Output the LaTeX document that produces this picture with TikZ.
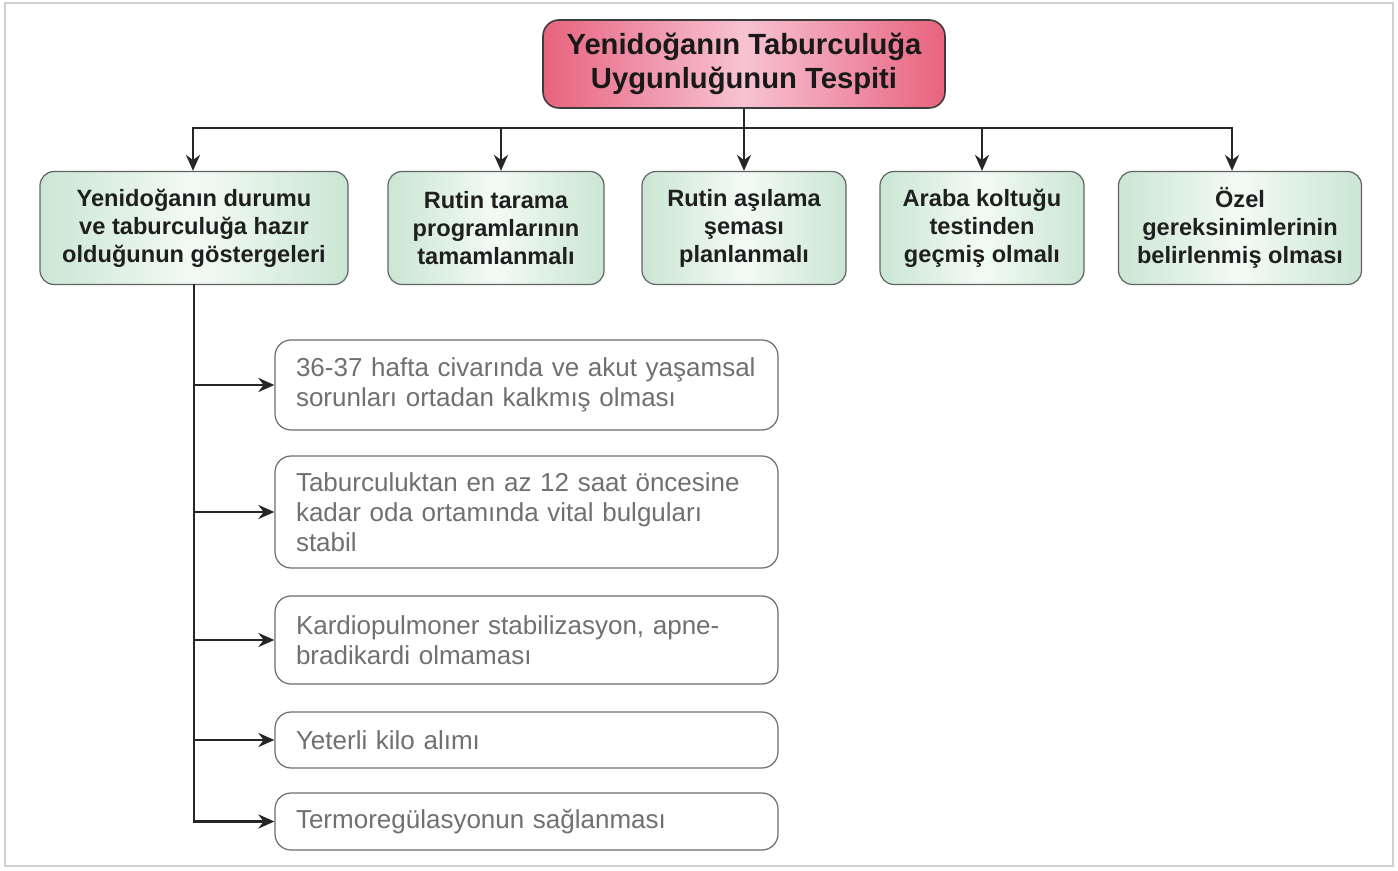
\documentclass[tikz,border=0pt]{standalone}
\usepackage{fontspec}
\setmainfont{Liberation Sans}
\usetikzlibrary{arrows.meta}
\definecolor{pinkedge}{HTML}{E8637E}
\definecolor{pinkmid}{HTML}{F7C3D3}
\definecolor{greenedge}{HTML}{CBE6D3}
\definecolor{greenmid}{HTML}{F3FAF5}
\definecolor{boxline}{HTML}{3C3C3C}
\definecolor{greytext}{HTML}{707070}
\definecolor{frameline}{HTML}{CFCFCF}
\tikzset{
  topbox/.style={draw=boxline, line width=0.8pt, rounded corners=8pt,
    left color=pinkedge, right color=pinkedge, middle color=pinkmid,
    align=center, font=\fontsize{14.6}{17}\selectfont\bfseries, text=black!90,
    minimum width=201pt, minimum height=44pt, inner sep=2pt},
  greenbox/.style={draw=boxline!80, line width=0.6pt, rounded corners=7pt,
    left color=greenedge, right color=greenedge, middle color=greenmid,
    align=center, font=\fontsize{11.8}{14}\selectfont\bfseries, text=black!88,
    minimum height=56.5pt, inner sep=2pt},
  whitebox/.style={draw=boxline!75, line width=0.6pt, rounded corners=8pt, fill=white,
    align=left, font=\fontsize{13}{15}\selectfont, text=greytext,
    minimum width=251.5pt, text width=230.5pt, inner xsep=10.5pt, inner ysep=2pt},
  conn/.style={draw=black!85, line width=1.4pt},
  arr/.style={conn, -{Stealth[length=8pt,width=7pt]}},
}
\begin{document}
\begin{tikzpicture}[x=0.5pt,y=-0.5pt]
\useasboundingbox (0,0) rectangle (1398,871);
\draw[frameline, line width=1pt] (5,3) rectangle (1393,866);

\node[topbox] (top) at (744,64) {Yenidoğanın Taburculuğa\\Uygunluğunun Tespiti};

\node[greenbox, minimum width=154pt] (g1) at (194,228) {Yenidoğanın durumu\\ve taburculuğa hazır\\olduğunun göstergeleri};
\node[greenbox, minimum width=108pt] (g2) at (496,228) {Rutin tarama\\programlarının\\tamamlanmalı};
\node[greenbox, minimum width=102pt] (g3) at (744,228) {Rutin aşılama\\şeması\\planlanmalı};
\node[greenbox, minimum width=102pt] (g4) at (982,228) {Araba koltuğu\\testinden\\geçmiş olmalı};
\node[greenbox, minimum width=121.5pt] (g5) at (1240,228) {Özel\\gereksinimlerinin\\belirlenmiş olması};

\node[whitebox, minimum height=45pt] (w1) at (526.5,385) {36-37 hafta civarında ve akut yaşamsal\\sorunları ortadan kalkmış olması};
\node[whitebox, minimum height=56pt] (w2) at (526.5,512) {Taburculuktan en az 12 saat öncesine\\kadar oda ortamında vital bulguları\\stabil};
\node[whitebox, minimum height=44pt] (w3) at (526.5,640) {Kardiopulmoner stabilizasyon, apne-\\bradikardi olmaması};
\node[whitebox, minimum height=28pt] (w4) at (526.5,740) {Yeterli kilo alımı};
\node[whitebox, minimum height=28.5pt] (w5) at (526.5,821.5) {Termoregülasyonun sağlanması};

\coordinate (bus) at (744,128);
\coordinate (b1) at (193,128);
\coordinate (b2) at (501,128);
\coordinate (b4) at (982,128);
\coordinate (b5) at (1232,128);

\draw[conn] (top.south) -- (bus);
\draw[conn, line cap=rect] (b1) -- (b5);
\draw[arr] (b1) -- (b1 |- g1.north);
\draw[arr] (b2) -- (b2 |- g2.north);
\draw[arr] (bus) -- (g3.north);
\draw[arr] (b4) -- (b4 |- g4.north);
\draw[arr] (b5) -- (b5 |- g5.north);

\draw[conn, line cap=rect] (g1.south) -- (g1.south |- w5.west);
\draw[arr] (g1.south |- w1.west) -- (w1.west);
\draw[arr] (g1.south |- w2.west) -- (w2.west);
\draw[arr] (g1.south |- w3.west) -- (w3.west);
\draw[arr] (g1.south |- w4.west) -- (w4.west);
\draw[arr] (g1.south |- w5.west) -- (w5.west);
\end{tikzpicture}
\end{document}
